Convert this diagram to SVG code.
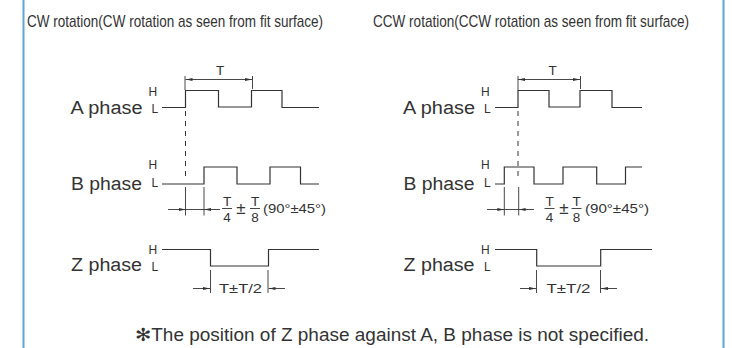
<svg xmlns="http://www.w3.org/2000/svg" width="732" height="348" viewBox="0 0 732 348">
<style>
text{font-family:"Liberation Sans",Arial,sans-serif;fill:#333}
.t{font-size:17px}.p{font-size:18px}.s{font-size:12px}.f{font-size:13.500px}.n{font-size:17.500px}.pm{font-size:17px}
.m{text-anchor:middle}
.w{fill:none;stroke:#333;stroke-width:1.2}
.d{fill:none;stroke:#333;stroke-width:.9}
.b{stroke:#5ba7d6;stroke-width:2}
.dash{stroke:#333;stroke-width:1;stroke-dasharray:5 5;fill:none}
</style>
<defs>
<marker id="a" markerWidth="7" markerHeight="4" refX="7" refY="2" orient="auto-start-reverse" markerUnits="userSpaceOnUse"><path d="M0 .5L7 2L0 3.500z" fill="#333"/></marker>
</defs>
<rect width="732" height="348" fill="#fff"/>
<g id="frame"><line class="b" x1="23.500" y1="0" x2="23.500" y2="348"/><line class="b" x1="723.500" y1="0" x2="723.500" y2="348"/></g>
<g id="connectors">
<path class="w" d="M162 107.500H185.500V90.500H218.500V107H251.500V90.500H282V107.500H319"/>
<path class="w" d="M162 184H204V167H237V184H270V167H300.500V184H319"/>
<path class="w" d="M162 249.500H210.500V266H268.500V249.500H319"/>
<path class="dash" d="M185.500 111V178"/>
<path class="d" d="M185 76V90M252.500 76V89"/>
<line class="d" x1="185.500" y1="79.500" x2="252" y2="79.500" marker-start="url(#a)" marker-end="url(#a)"/>
<path class="d" d="M185.500 187V215.500M204 187V215.500M185.500 209.500H204"/>
<line class="d" x1="168" y1="209.500" x2="185.500" y2="209.500" marker-end="url(#a)"/>
<line class="d" x1="220" y1="209.500" x2="204" y2="209.500" marker-end="url(#a)"/>
<path class="d" d="M222 208.500H232M250 208.500H260"/>
<path class="d" d="M210.500 270V293M268 270V293"/>
<line class="d" x1="193" y1="288.500" x2="210" y2="288.500" marker-end="url(#a)"/>
<line class="d" x1="285" y1="288.500" x2="268.500" y2="288.500" marker-end="url(#a)"/>

<path class="w" d="M495 107.500H518V90.500H549V107H580V90.500H612V107.500H642"/>
<path class="w" d="M495 184H504.300V167H534V184H563V167H596.700V184H625.500V167H642"/>
<path class="w" d="M495 249.500H536.700V266H600.700V249.500H652"/>
<path class="dash" d="M518 111V178"/>
<path class="d" d="M518 76V90M580.500 76V89"/>
<line class="d" x1="518" y1="79.500" x2="580" y2="79.500" marker-start="url(#a)" marker-end="url(#a)"/>
<path class="d" d="M504.300 187V215.500M518.700 187V215.500M504.300 209.500H518.700"/>
<line class="d" x1="487" y1="209.500" x2="504.300" y2="209.500" marker-end="url(#a)"/>
<line class="d" x1="534" y1="209.500" x2="518.700" y2="209.500" marker-end="url(#a)"/>
<path class="d" d="M544.500 208.500H554.500M571.500 208.500H581.500"/>
<path class="d" d="M536.500 270V293M600.500 270V293"/>
<line class="d" x1="520" y1="288.500" x2="536" y2="288.500" marker-end="url(#a)"/>
<line class="d" x1="617" y1="288.500" x2="601" y2="288.500" marker-end="url(#a)"/>
</g>
<g id="cw-title"><text class="t" x="27" y="27" textLength="296" lengthAdjust="spacingAndGlyphs">CW rotation(CW rotation as seen from fit surface)</text></g>
<g id="ccw-title"><text class="t" x="373" y="27" textLength="316" lengthAdjust="spacingAndGlyphs">CCW rotation(CCW rotation as seen from fit surface)</text></g>
<g id="cw-a"><text class="p" x="70.500" y="113.500" textLength="72" lengthAdjust="spacingAndGlyphs">A phase</text><text class="s" x="148.500" y="96">H</text><text class="s" x="151.500" y="113">L</text><text class="f m" x="220" y="75">T</text></g>
<g id="cw-b"><text class="p" x="71" y="190" textLength="71" lengthAdjust="spacingAndGlyphs">B phase</text><text class="s" x="148.500" y="169">H</text><text class="s" x="151.500" y="186.500">L</text>
<text class="f m" x="227" y="205.500">T</text><text class="f m" x="227" y="222">4</text><text class="pm m" x="241" y="214">±</text><text class="f m" x="255" y="205.500">T</text><text class="f m" x="255" y="222">8</text><text class="f" x="263" y="213" textLength="63" lengthAdjust="spacingAndGlyphs">(90°±45°)</text></g>
<g id="cw-z"><text class="p" x="71" y="270.500" textLength="71" lengthAdjust="spacingAndGlyphs">Z phase</text><text class="s" x="148.500" y="254">H</text><text class="s" x="151.500" y="270.500">L</text><text class="f m" x="240.500" y="293" textLength="43" lengthAdjust="spacingAndGlyphs">T±T/2</text></g>
<g id="ccw-a"><text class="p" x="403" y="113.500" textLength="72" lengthAdjust="spacingAndGlyphs">A phase</text><text class="s" x="481" y="96">H</text><text class="s" x="484" y="113">L</text><text class="f m" x="552.500" y="75">T</text></g>
<g id="ccw-b"><text class="p" x="403.500" y="190" textLength="71" lengthAdjust="spacingAndGlyphs">B phase</text><text class="s" x="481" y="169">H</text><text class="s" x="484" y="186.500">L</text>
<text class="f m" x="549.500" y="205.500">T</text><text class="f m" x="549.500" y="222">4</text><text class="pm m" x="564" y="214">±</text><text class="f m" x="576.500" y="205.500">T</text><text class="f m" x="576.500" y="222">8</text><text class="f" x="585" y="213" textLength="64" lengthAdjust="spacingAndGlyphs">(90°±45°)</text></g>
<g id="ccw-z"><text class="p" x="403.500" y="270.500" textLength="71" lengthAdjust="spacingAndGlyphs">Z phase</text><text class="s" x="481" y="254">H</text><text class="s" x="484" y="270.500">L</text><text class="f m" x="568.500" y="293" textLength="44" lengthAdjust="spacingAndGlyphs">T±T/2</text></g>
<g id="note"><text class="n" x="135" y="340.500" textLength="514" lengthAdjust="spacingAndGlyphs">✻The position of Z phase against A, B phase is not specified.</text></g>
</svg>
